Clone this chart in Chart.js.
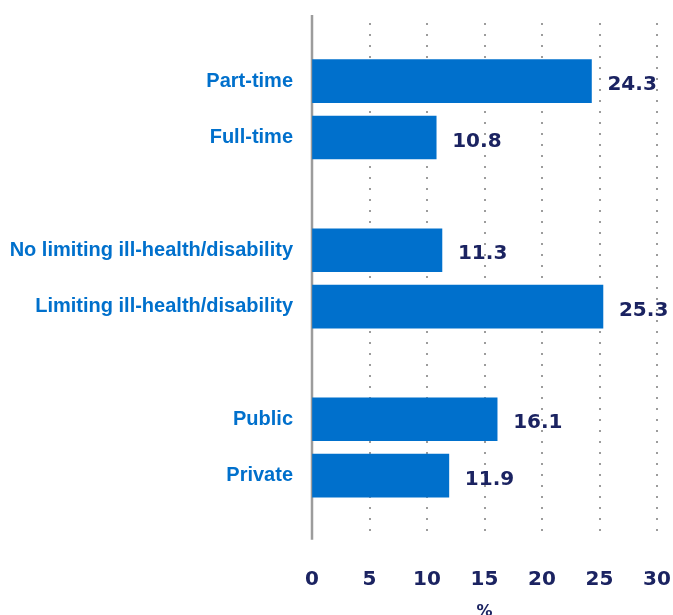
<!DOCTYPE html>
<html>
<head>
<meta charset="utf-8">
<script src="https://cdn.jsdelivr.net/npm/chart.js@4/dist/chart.umd.min.js"></script>
<style>
  html, body { margin: 0; padding: 0; background: #fff; overflow: hidden; }
  canvas { display: block; }
</style>
</head>
<body>
<canvas id="chart" width="673" height="622"></canvas>
<script>
// blank entries make the gaps between groups
const categories = ['Part-time', 'Full-time', '', 'No limiting ill-health/disability', 'Limiting ill-health/disability', '', 'Public', 'Private']
const values = [24.3, 10.8, null, 11.3, 25.3, null, 16.1, 11.9]
const xTicks = [0, 5, 10, 15, 20, 25, 30]

const BLUE = '#0070cc'
const NAVY = '#1b2361'
const FONT = "'Liberation Sans', Arial, sans-serif"
const NUM_FONT = "'DejaVu Sans', sans-serif"

// dotted verticals + solid zero line, running past the plot area like the original
const gridPlugin = {
  id: 'dottedGrid',
  beforeDatasetsDraw (chart) {
    const { ctx, chartArea, scales } = chart
    const top = chartArea.top - 38
    const bottom = chartArea.bottom + 36
    ctx.save()
    ctx.strokeStyle = '#9c9c9c'
    ctx.lineWidth = 2
    ctx.setLineDash([2, 9])
    xTicks.filter((v) => v !== 0).forEach((v) => {
      const x = Math.round(scales.x.getPixelForValue(v))
      ctx.beginPath()
      ctx.moveTo(x, top + 8)
      ctx.lineTo(x, bottom)
      ctx.stroke()
    })
    ctx.setLineDash([])
    ctx.lineWidth = 2.5
    const x0 = scales.x.getPixelForValue(0)
    ctx.beginPath()
    ctx.moveTo(x0, top)
    ctx.lineTo(x0, bottom)
    ctx.stroke()
    ctx.restore()
  }
}

const valueLabels = {
  id: 'valueLabels',
  afterDatasetsDraw (chart) {
    const { ctx } = chart
    ctx.save()
    ctx.font = 'bold 20px ' + NUM_FONT
    ctx.fillStyle = NAVY
    ctx.textAlign = 'left'
    ctx.textBaseline = 'middle'
    chart.getDatasetMeta(0).data.forEach((bar, i) => {
      if (values[i] == null) return
      ctx.fillText(values[i].toFixed(1), bar.x + 16, bar.y + 4)
    })
    ctx.restore()
  }
}

new Chart(document.getElementById('chart'), {
  type: 'bar',
  data: {
    labels: categories,
    datasets: [{
      data: values,
      backgroundColor: BLUE,
      barThickness: 43
    }]
  },
  options: {
    indexAxis: 'y',
    responsive: false,
    animation: false,
    layout: {
      padding: { top: 53, right: 16, bottom: 1, left: 0 }
    },
    plugins: {
      legend: { display: false },
      tooltip: { enabled: false }
    },
    scales: {
      x: {
        min: 0,
        max: 30,
        afterBuildTicks: (scale) => { scale.ticks = xTicks.map((v) => ({ value: v })) },
        // invisible tick marks just push the labels down
        grid: { color: 'rgba(0,0,0,0)', drawOnChartArea: false, tickLength: 64 },
        border: { display: false },
        ticks: {
          padding: 0,
          color: NAVY,
          font: { family: NUM_FONT, size: 20, weight: 'bold' }
        },
        title: {
          display: true,
          text: '%',
          color: NAVY,
          padding: { top: 10, bottom: 0 },
          font: { family: NUM_FONT, size: 16, weight: 'bold' }
        }
      },
      y: {
        afterFit: (scale) => { scale.width = 312 },
        grid: { display: false, drawTicks: false },
        border: { display: false },
        ticks: {
          padding: 19,
          color: BLUE,
          font: { family: FONT, size: 20, weight: 'bold' }
        }
      }
    }
  },
  plugins: [gridPlugin, valueLabels]
})
</script>
</body>
</html>
